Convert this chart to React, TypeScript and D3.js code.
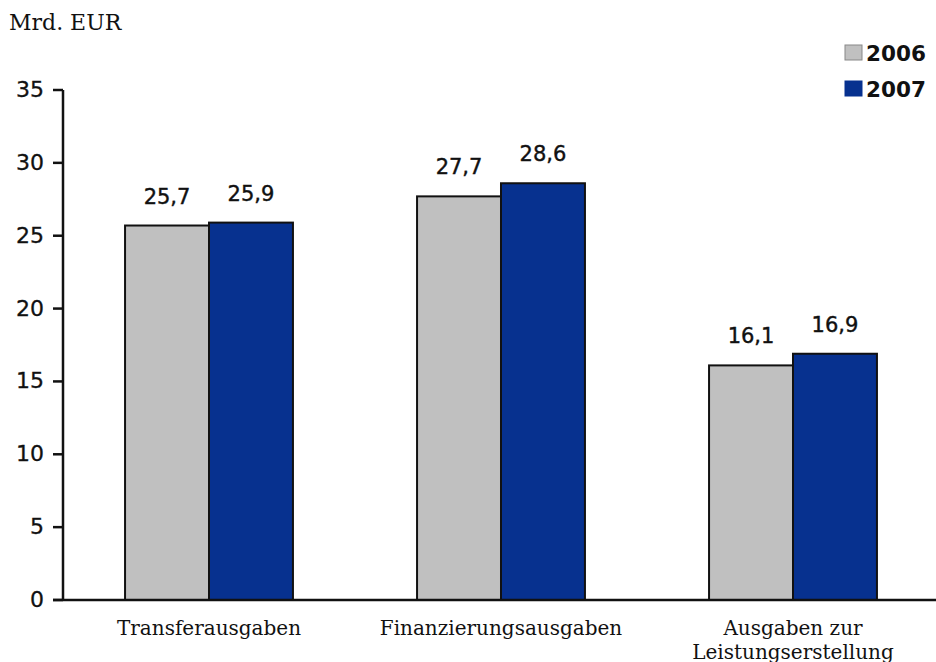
import React from "react";
import * as d3 from "d3";

const categories = ["Transferausgaben", "Finanzierungsausgaben", "Ausgaben zur\nLeistungserstellung"];
const seriesNames = ["2006", "2007"];
const values2006 = [25.7, 27.7, 16.1];
const values2007 = [25.9, 28.6, 16.9];
const yTicks = [0, 5, 10, 15, 20, 25, 30, 35];
const seriesColors = ["#c0c0c0", "#07318f"];

const W = 936;
const H = 662;
const plot = { left: 63, right: 939, top: 90, bottom: 600 };

export default function App() {
  const y = d3.scaleLinear().domain([0, 35]).range([plot.bottom, plot.top]);
  const x = d3
    .scaleBand<string>()
    .domain(categories)
    .range([plot.left, plot.right])
    .paddingInner(0.425)
    .paddingOuter(0.2125);
  const xs = d3.scaleBand<string>().domain(seriesNames).range([0, x.bandwidth()]);
  const seriesValues = [values2006, values2007];
  const fmt = (v: number) => v.toFixed(1).replace(".", ",");

  return (
    <svg width={W} height={H} style={{ position: "absolute", left: 0, top: 0, background: "#fff" }}>
      <text x={9} y={30} fontFamily="DejaVu Serif" fontSize={22} fill="#111">
        Mrd. EUR
      </text>

      {/* legend */}
      {seriesNames.map((s, i) => (
        <g key={s} transform={`translate(845, ${45 + i * 36})`}>
          <rect x={0} y={0} width={17} height={15} fill={seriesColors[i]} stroke={i === 0 ? "#888" : seriesColors[i]} strokeWidth={1} />
          <text x={21} y={16} fontFamily="DejaVu Sans" fontWeight="bold" fontSize={21.5} fill="#111">
            {s}
          </text>
        </g>
      ))}

      {/* bars */}
      {categories.map((c, ci) => (
        <g key={c} transform={`translate(${x(c)},0)`}>
          {seriesNames.map((s, si) => {
            const v = seriesValues[si][ci];
            const bx = xs(s)!;
            const bw = xs.bandwidth();
            return (
              <g key={s}>
                <rect
                  x={bx}
                  y={y(v)}
                  width={bw}
                  height={plot.bottom - y(v)}
                  fill={seriesColors[si]}
                  stroke="#111"
                  strokeWidth={2}
                />
                <text
                  x={bx + bw / 2}
                  y={y(v) - 22}
                  textAnchor="middle"
                  fontFamily="DejaVu Sans"
                  fontSize={21}
                  fill="#111"
                  stroke="#111"
                  strokeWidth={0.4}
                >
                  {fmt(v)}
                </text>
              </g>
            );
          })}
        </g>
      ))}

      {/* y axis */}
      <line x1={plot.left} x2={plot.left} y1={plot.top} y2={plot.bottom} stroke="#111" strokeWidth={2.5} />
      <line x1={53} x2={W} y1={plot.bottom} y2={plot.bottom} stroke="#111" strokeWidth={2.5} />
      {yTicks.map((t) => (
        <g key={t}>
          <line x1={53} x2={plot.left} y1={y(t)} y2={y(t)} stroke="#111" strokeWidth={2.5} />
          <text
            x={44}
            y={y(t) + 7}
            textAnchor="end"
            fontFamily="DejaVu Sans"
            fontSize={22}
            fill="#111"
            stroke="#111"
            strokeWidth={0.3}
          >
            {t}
          </text>
        </g>
      ))}

      {/* category labels */}
      {categories.map((c) => (
        <text
          key={c}
          x={x(c)! + x.bandwidth() / 2}
          y={635}
          textAnchor="middle"
          fontFamily="DejaVu Serif"
          fontSize={20}
          fill="#111"
        >
          {c.split("\n").map((line, li) => (
            <tspan key={li} x={x(c)! + x.bandwidth() / 2} dy={li === 0 ? 0 : 24}>
              {line}
            </tspan>
          ))}
        </text>
      ))}
    </svg>
  );
}
